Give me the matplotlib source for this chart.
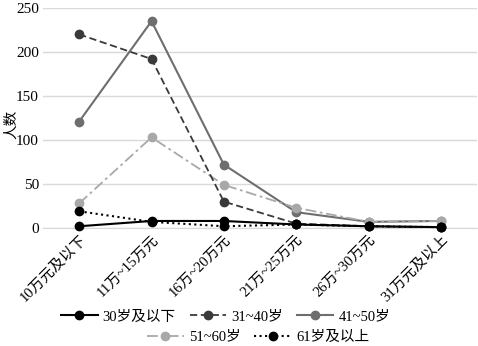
import matplotlib
matplotlib.use("Agg")
import matplotlib.pyplot as plt
import numpy as np

plt.rcParams['font.family'] = ['Liberation Serif', 'Noto Sans CJK SC']

categories = ["10万元及以下", "11万~15万元", "16万~20万元", "21万~25万元", "26万~30万元", "31万元及以上"]
age_30_below = [2, 8, 8, 4, 2, 1]
age_31_40 = [220, 192, 30, 5, 2, 1]
age_41_50 = [121, 235, 72, 18, 7, 8]
age_51_60 = [28, 103, 49, 23, 7, 8]
age_61_above = [19, 7, 2, 4, 2, 1]
series_names = ["30岁及以下", "31~40岁", "41~50岁", "51~60岁", "61岁及以上"]

fig = plt.figure(figsize=(4.78, 3.46), dpi=100)
ax = fig.add_axes([0.09, 0.341, 0.908, 0.636])

x = np.arange(len(categories))
styles = [
    (age_30_below, "#000000", "-", 1.5),
    (age_31_40, "#3a3a3a", (0, (4, 2)), 1.3),
    (age_41_50, "#6e6e6e", "-", 1.5),
    (age_51_60, "#a8a8a8", (0, (6, 2, 1.5, 2)), 1.3),
    (age_61_above, "#000000", ":", 1.5),
]
order = [2, 3, 1, 4, 0]
lines = {}
for i in order:
    vals, c, ls, lw = styles[i]
    ln, = ax.plot(x, vals, color=c, linestyle=ls, linewidth=lw, marker="o",
                  markersize=6, markerfacecolor=c, markeredgecolor=c,
                  clip_on=False, zorder=3 + (i == 0), label=series_names[i])
    lines[i] = ln

ax.set_xlim(-0.5, len(categories) - 0.5)
ax.set_ylim(0, 250)
ax.set_yticks([0, 50, 100, 150, 200, 250])
ax.yaxis.grid(True, color="#d9d9d9", linewidth=1)
ax.set_axisbelow(True)
for s in ["top", "right", "left"]:
    ax.spines[s].set_visible(False)
ax.spines["bottom"].set_color("#d9d9d9")
ax.tick_params(axis="both", length=0)
ax.tick_params(axis="y", labelsize=11, pad=3)
ax.set_xticks(x)
ax.set_xticklabels(categories, rotation=45, ha="right", rotation_mode="anchor", fontsize=10.5)
ax.set_ylabel("人数", fontsize=10.5)
ax.yaxis.set_label_coords(-0.058, 0.47)

handles = [lines[i] for i in range(5)]
leg_kw = dict(loc="center", frameon=False, fontsize=10.5, handlelength=2.5,
              columnspacing=0.95, handletextpad=0.35)
fig.legend(handles[:3], series_names[:3], bbox_to_anchor=(0.472, 0.084), ncol=3, **leg_kw)
fig.legend(handles[3:], series_names[3:], bbox_to_anchor=(0.54, 0.026), ncol=2, **leg_kw)

fig.savefig("out.png", dpi=100)
